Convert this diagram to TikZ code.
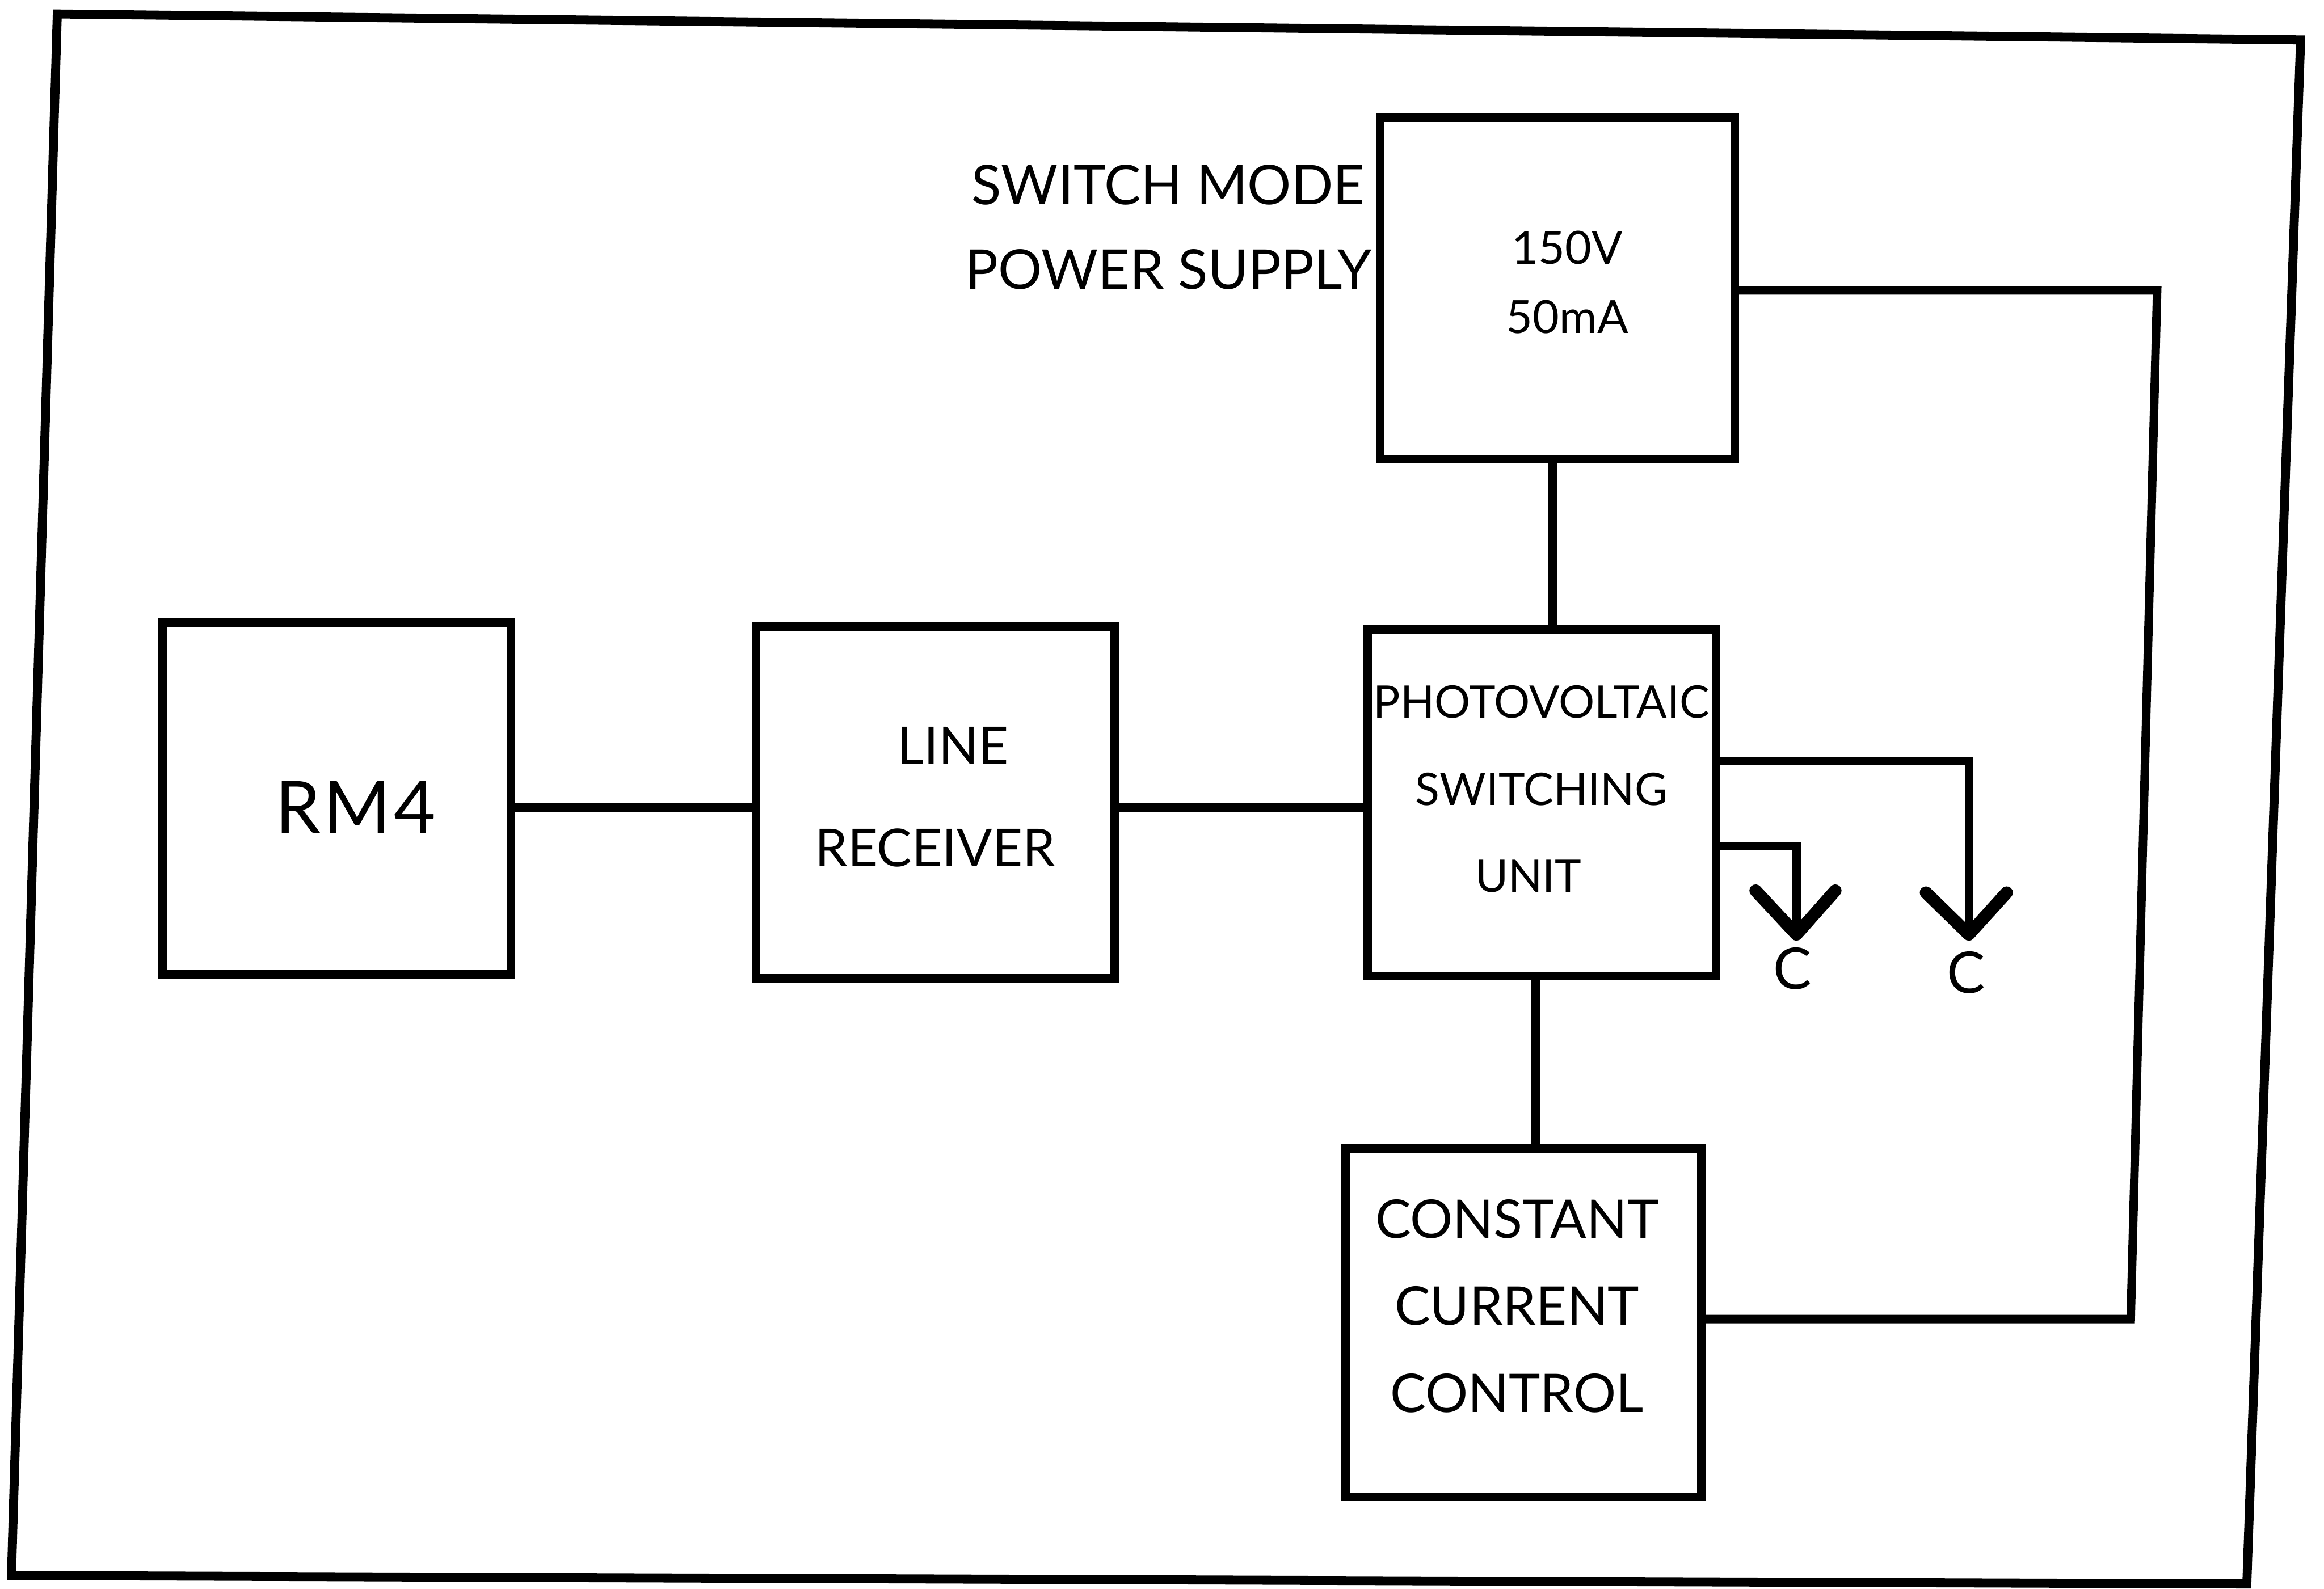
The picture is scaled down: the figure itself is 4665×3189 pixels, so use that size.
\documentclass[tikz,border=0pt]{standalone}
\usepackage{fontspec}
\setmainfont{Lato}
\usetikzlibrary{calc}
\begin{document}
\begin{tikzpicture}[x=1pt,y=-1pt,line join=miter,
  box/.style={draw,line width=17pt,rectangle,inner sep=0pt},
  wire/.style={line width=17pt},
  tipline/.style={line width=25pt,line cap=round,line join=round},
  lbl/.style={inner sep=0pt,align=center,text=black}]
\useasboundingbox (0,0) rectangle (4665,3189);
% outer frame
\draw[line width=18pt] (115,28) -- (4618,80) -- (4510,3180) -- (23,3163) -- cycle;
% boxes
\node[box,minimum width=712pt,minimum height=686pt] (smps) at (3126,579) {};
\node[box,minimum width=699pt,minimum height=707pt] (rm4) at (676,1603) {};
\node[box,minimum width=720pt,minimum height=706pt] (lr) at (1877,1611) {};
\node[box,minimum width=700pt,minimum height=696pt] (pv) at (3095,1612) {};
\node[box,minimum width=714pt,minimum height=699pt] (ccc) at (3058,2655) {};
% texts
\node[lbl,font={\fontsize{110}{169}\selectfont}] (smpslbl) at (2345,456) {SWITCH MODE\\POWER SUPPLY};
\node[lbl,font={\fontsize{92}{139}\selectfont}] (smpstxt) at (3146,567) {150V\\50mA};
\node[lbl,font={\fontsize{145}{170}\selectfont}] (rm4txt) at (714,1621) {R\kern6pt M\kern6pt 4};
\node[lbl,font={\fontsize{105}{205}\selectfont}] (lrtxt) at (1877,1600) {\hspace*{72pt}LINE\\RECEIVER};
\node[lbl,font={\fontsize{90}{175}\selectfont}] (pvtxt) at (3094,1584) {PHOTOVOLTAIC\\SWITCHING\\\hspace*{-52pt}UNIT};
\node[lbl,font={\fontsize{107}{175}\selectfont}] (ccctxt) at (3045,2622) {CONSTANT\\CURRENT\\CONTROL};
% helper coordinates
\coordinate (m1) at (0,1621);
\coordinate (v1) at (3117,0);
\coordinate (v2) at (3082,0);
\coordinate (fb1) at (4330,583);
\coordinate (fb2) at (4277,2648);
\coordinate (b1) at (3952,1528);
\coordinate (b2) at (3606,1699);
\coordinate (tip2) at (3952,1876);
\coordinate (tip1) at (3606,1876);
% connectors
\draw[wire] (rm4.east |- m1) -- (lr.west |- m1);
\draw[wire] (lr.east |- m1) -- (pv.west |- m1);
\draw[wire] (smps.south -| v1) -- (pv.north -| v1);
\draw[wire] (pv.south -| v2) -- (ccc.north -| v2);
\draw[wire] (smps.east |- fb1) -- (fb1) -- (fb2) -- (ccc.east |- fb2);
\draw[wire] (pv.east |- b1) -- (b1) -- (tip2);
\draw[wire] (pv.east |- b2) -- (b2) -- (tip1);
% open arrowheads
\draw[tipline] ($(tip1)+(-82,-88)$) -- (tip1) -- ($(tip1)+(78,-88)$);
\draw[tipline] ($(tip2)+(-86,-84)$) -- (tip2) -- ($(tip2)+(76,-84)$);
% C labels
\node[lbl,font={\fontsize{115}{130}\selectfont}] (c1) at (3598,1945) {C};
\node[lbl,font={\fontsize{115}{130}\selectfont}] (c2) at (3946,1953) {C};
\end{tikzpicture}
\end{document}
